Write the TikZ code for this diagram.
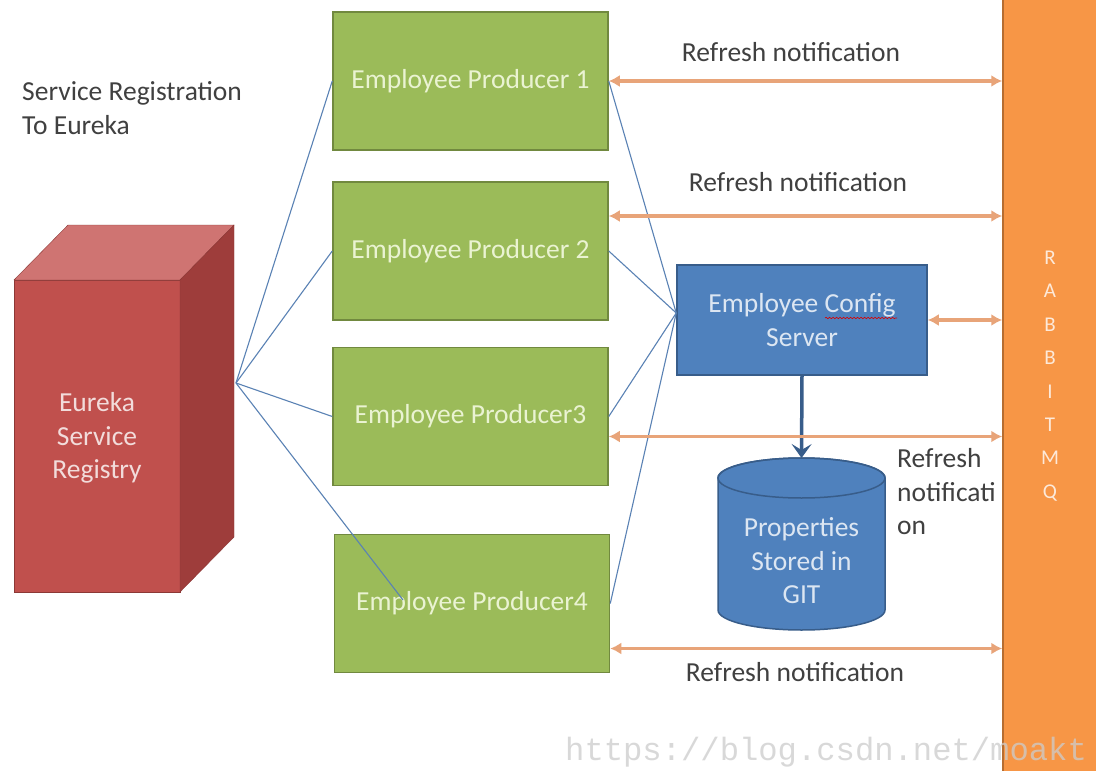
\documentclass[tikz,border=0pt]{standalone}
\usepackage{fontspec}
\setmainfont{Carlito}
\newfontfamily\wmfont{Liberation Mono}
\usetikzlibrary{arrows.meta,decorations.pathmorphing}
\definecolor{prodfill}{HTML}{9BBB59}
\definecolor{prodline}{HTML}{71893F}
\definecolor{prodtext}{HTML}{EAF3D2}
\definecolor{cfgfill}{HTML}{4F81BD}
\definecolor{cfgline}{HTML}{385D8A}
\definecolor{cfgtext}{HTML}{DCE6F2}
\definecolor{regfront}{HTML}{C0504D}
\definecolor{regtop}{HTML}{CF7472}
\definecolor{regside}{HTML}{9E3D3B}
\definecolor{regline}{HTML}{8C3836}
\definecolor{regtext}{HTML}{F2DCDB}
\definecolor{mqfill}{HTML}{F79646}
\definecolor{mqline}{HTML}{B66D31}
\definecolor{mqtext}{HTML}{FDE9D9}
\definecolor{notifycol}{HTML}{E8A479}
\definecolor{linkcol}{HTML}{5A82B4}
\definecolor{labelcol}{HTML}{404040}
\tikzset{
  txt/.style={inner sep=0pt, font=\fontsize{27.5}{33.5}\selectfont},
  producer/.style={txt, draw=prodline, fill=prodfill, line width=1.5pt, text=prodtext,
    minimum width=275pt, minimum height=138pt},
  server/.style={txt, draw=cfgline, fill=cfgfill, line width=1.5pt, text=cfgtext,
    align=center, minimum width=250pt, minimum height=110pt},
  queue/.style={draw=mqline, fill=mqfill, line width=1.5pt, text=mqtext, align=center,
    inner sep=0pt, minimum width=94pt, minimum height=792pt, font=\fontsize{21}{33.4}\selectfont},
  caption/.style={txt, text=labelcol},
  link/.style={draw=linkcol, line width=1.1pt},
  notify/.style={draw=notifycol, line width=3.5pt,
    {Latex[length=11pt,width=12pt]}-{Latex[length=11pt,width=12pt]}},
  feed/.style={draw=cfgline, line width=3.5pt, -{Stealth[length=14pt,width=20pt,inset=6pt]}},
}
\begin{document}
\begin{tikzpicture}[x=1pt,y=1pt]
\useasboundingbox (0,0) rectangle (1096,-771);
\fill[white] (0,0) rectangle (1096,-771);
\filldraw[fill=regfront,draw=regline] (14,-280) rectangle (180,-592);
\filldraw[fill=regtop,draw=regline] (14,-280) -- (68,-225) -- (234,-225) -- (180,-280) -- cycle;
\filldraw[fill=regside,draw=regline] (180,-280) -- (234,-225) -- (234,-537) -- (180,-592) -- cycle;
\node[txt,text=regtext,align=center] (eureka) at (97,-438) {Eureka\\Service\\Registry};
\coordinate (hub) at (236,-383);
\node[producer] (p1) at (470.5,-81) {Employee Producer 1};
\node[producer] (p2) at (470.5,-251) {Employee Producer 2};
\node[producer] (p3) at (470.5,-416.5) {Employee Producer3};
\node[producer] (p4) at (472,-603.5) {Employee Producer4};
\node[server] (cfg) at (802,-320) {Employee Config\\Server};
\draw[red!85!black, line width=0.6pt, decorate, decoration={snake,amplitude=0.7pt,segment length=3.5pt}] (825,-318) -- (897,-318);
\node[queue] (mq) at (1050,-376) {R\\A\\B\\B\\I\\T\\M\\Q};
\filldraw[fill=cfgfill,draw=cfgline,line width=1.5pt] (718,-478) -- (718,-610)
  arc[start angle=180,end angle=360,x radius=83.5,y radius=20] -- (885,-478)
  arc[start angle=0,end angle=180,x radius=83.5,y radius=20] -- cycle;
\draw[cfgline,line width=1.5pt] (801.5,-478) ellipse[x radius=83.5,y radius=20];
\coordinate (gittop) at (801.5,-458);
\node[txt,text=cfgtext,align=center] (git) at (801.5,-561) {Properties\\Stored in\\GIT};
\coordinate (p4in) at (403,-600);
\coordinate (cfgin) at ([yshift=7pt]cfg.west);
\foreach \p in {p1,p2,p3} \draw[link] (hub) -- (\p.west);
\draw[link] (hub) -- (p4in);
\foreach \p in {p1,p2,p3,p4} \draw[link] (\p.east) -- (cfgin);
\draw[feed] (cfg.south) -- (gittop);
\coordinate (n2) at ([yshift=35pt]p2.east);
\coordinate (n3) at ([yshift=-20pt]p3.east);
\coordinate (n4) at ([yshift=-45pt]p4.east);
\foreach \c in {p1.east,n2,cfg.east,n3,n4} \draw[notify] (\c) -- (\c -| mq.west);
\node[caption,align=left,anchor=west] (reg) at (22,-108) {Service Registration\\To Eureka};
\node[caption] (lab1) at (791,-52) {Refresh notification};
\node[caption] (lab2) at (798,-182) {Refresh notification};
\node[caption,align=left,anchor=west] (lab3) at (897,-492) {Refresh\\notificati\\on};
\node[caption] (lab4) at (795,-672) {Refresh notification};
\node[anchor=base west, inner sep=0pt, text=gray!40, text opacity=0.75,
  font=\wmfont\fontsize{32.2}{33}\selectfont] (wm) at (565,-760) {https://blog.csdn.net/moakt};
\end{tikzpicture}
\end{document}
